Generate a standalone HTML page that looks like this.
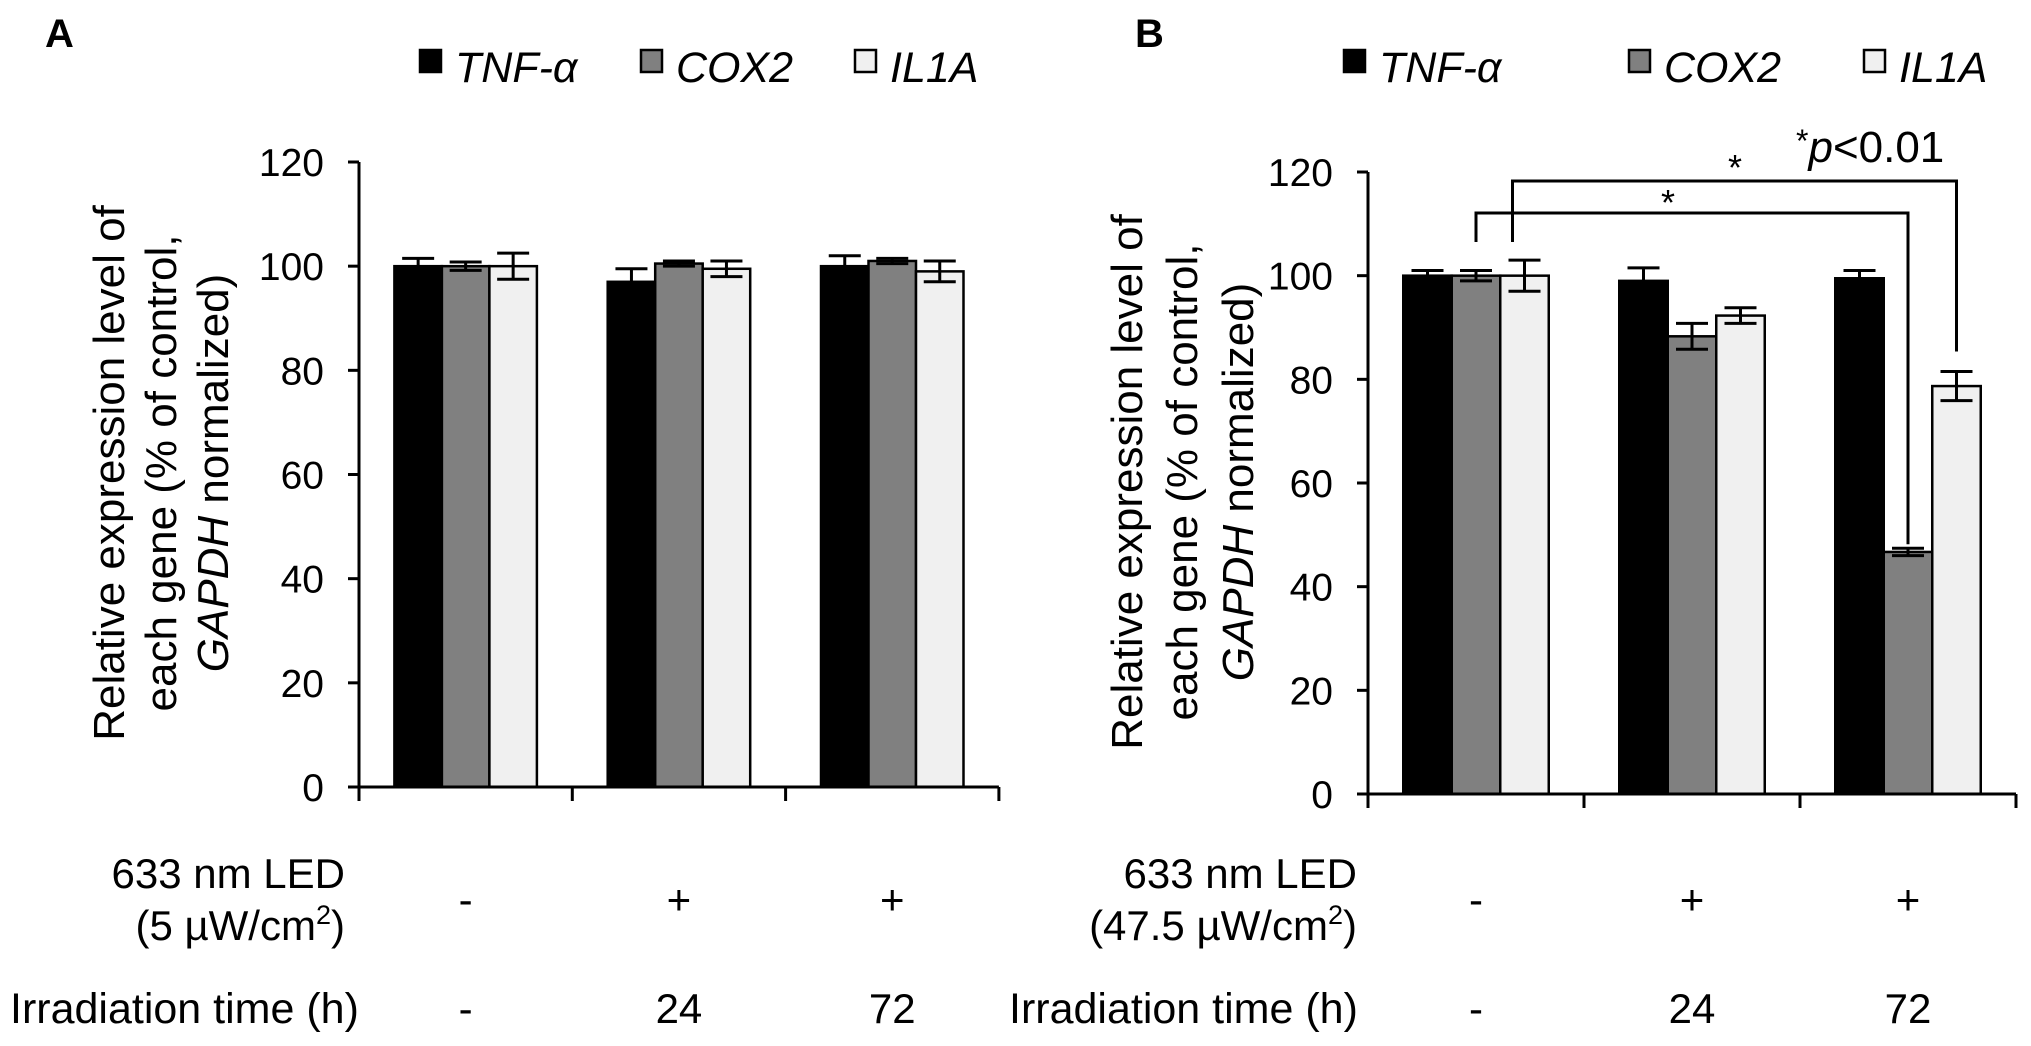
<!DOCTYPE html>
<html><head><meta charset="utf-8"><style>
html,body{margin:0;padding:0;background:#fff;}
svg{display:block;font-family:"Liberation Sans",Arial,sans-serif;}
</style></head><body>
<svg id="fig" width="2031" height="1046" viewBox="0 0 2031 1046">
</svg>
<script>
const categories = ["control", "24 h", "72 h"];
const series = ["TNF-α", "COX2", "IL1A"];
const ticks = [0, 20, 40, 60, 80, 100, 120];
const ledLabels = ["-", "+", "+"];
const timeLabels = ["-", "24", "72"];
const aTNF = [100, 97, 100];
const aCOX2 = [100, 100.5, 101];
const aIL1A = [100, 99.5, 99];
const aTNFerr = [1.5, 2.5, 2];
const aCOX2err = [0.8, 0.5, 0.5];
const aIL1Aerr = [2.5, 1.5, 2];
const bTNF = [100, 99, 99.5];
const bCOX2 = [100, 88.3, 46.7];
const bIL1A = [100, 92.3, 78.7];
const bTNFerr = [1, 2.5, 1.5];
const bCOX2err = [1, 2.5, 0.7];
const bIL1Aerr = [3, 1.5, 2.8];

const NS = "http://www.w3.org/2000/svg";
const svg = document.getElementById("fig");
const fills = ["#000", "#808080", "#f0f0f0"];
function el(tag, attrs, parent) {
  const e = document.createElementNS(NS, tag);
  for (const k in attrs) e.setAttribute(k, attrs[k]);
  (parent || svg).appendChild(e);
  return e;
}
function txt(x, y, s, size, anchor, parent, style) {
  const t = el("text", {x: x, y: y, "font-size": size, "text-anchor": anchor || "start", fill: "#000"}, parent);
  if (style) t.setAttribute("font-style", style);
  t.textContent = s;
  return t;
}

function panel(cfg) {
  const g = el("g", {});
  
  
  const x0 = cfg.axisX, y0 = cfg.base, yTop = cfg.top, gw = cfg.groupW;
  const yScale = v => y0 - (v / 120) * (y0 - yTop);
  const xGroup = i => x0 + gw * i + gw / 2;
  const bw = cfg.barW;
  const data = [cfg.vals[0], cfg.vals[1], cfg.vals[2]];
  const errs = [cfg.errs[0], cfg.errs[1], cfg.errs[2]];
  for (let i = 0; i < categories.length; i++) {
    for (let s = 0; s < series.length; s++) {
      const v = data[s][i];
      const bx = xGroup(i) - 1.5 * bw + s * bw;
      const r = el("rect", {x: bx, y: yScale(v), width: bw, height: y0 - yScale(v), fill: fills[s], stroke: "#000", "stroke-width": 2.5}, g);
      
      
      const e = errs[s][i], cx = bx + bw / 2, cw = 16;
      const eg = el("g", {stroke: "#000", "stroke-width": 3}, g);
      
      
      el("line", {x1: cx, x2: cx, y1: yScale(v + e), y2: yScale(v - e)}, eg);
      el("line", {x1: cx - cw, x2: cx + cw, y1: yScale(v + e), y2: yScale(v + e)}, eg);
      el("line", {x1: cx - cw, x2: cx + cw, y1: yScale(v - e), y2: yScale(v - e)}, eg);
    }
  }
  const ax = el("g", {stroke: "#000", "stroke-width": 3}, g);
  
  
  el("line", {x1: x0, x2: x0, y1: yTop, y2: y0 + 14}, ax);
  el("line", {x1: x0 - 11, x2: x0 + gw * 3, y1: y0, y2: y0}, ax);
  for (let i = 1; i <= 3; i++) el("line", {x1: x0 + gw * i, x2: x0 + gw * i, y1: y0, y2: y0 + 14}, ax);
  ticks.forEach(t => {
    el("line", {x1: x0 - 11, x2: x0, y1: yScale(t), y2: yScale(t)}, ax);
    const lb = txt(x0 - 35, yScale(t) + 14, String(t), 39, "end", g);
    
    
  });
  const tl = el("g", {transform: "translate(0," + cfg.titleY + ")"}, g);
  
  
  const lines = ["Relative expression level of", "each gene (% of control,"];
  lines.forEach((s, k) => {
    const t = txt(0, 0, s, 44, "middle", tl);
    t.setAttribute("transform", "translate(" + (cfg.titleX[k] + 16) + ",0) rotate(-90)");
  });
  const t3 = el("text", {"font-size": 44, "text-anchor": "middle", transform: "translate(" + (cfg.titleX[2] + 16) + ",0) rotate(-90)"}, tl);
  const ts1 = el("tspan", {"font-style": "italic"}, t3); ts1.textContent = "GAPDH";
  const ts2 = el("tspan", {}, t3); ts2.textContent = " normalized)";
  const lg = el("g", {}, g);
  
  
  series.forEach((s, k) => {
    el("rect", {x: cfg.legX[k], y: 50, width: 21, height: 22, fill: fills[k], stroke: "#000", "stroke-width": 2.5}, lg);
    const t = txt(cfg.legX[k] + 35, 82, s, 43, "start", lg, "italic");
    
    
  });
  const pl = txt(cfg.letterX, 47, cfg.letter, 40, "start", g);
  pl.setAttribute("font-weight", "bold");
  
  
  const r1 = txt(cfg.labelRight, 888, "633 nm LED", 42, "end", g);
  
  
  const r2 = el("text", {x: cfg.labelRight, y: 940, "font-size": 42, "text-anchor": "end"}, g);
  
  
  const p1 = el("tspan", {}, r2); p1.textContent = "(" + cfg.power + " µW/cm";
  const p2 = el("tspan", {dy: -16, "font-size": 27}, r2); p2.textContent = "2";
  const p3 = el("tspan", {dy: 16}, r2); p3.textContent = ")";
  const r3 = txt(cfg.irrX, 1023, "Irradiation time (h)", 43, "start", g);
  
  
  for (let i = 0; i < 3; i++) {
    const a = txt(xGroup(i), 914, ledLabels[i], 42, "middle", g);
    
    
    const b = txt(xGroup(i), 1023, timeLabels[i], 42, "middle", g);
    
    
  }
  return {yScale, xGroup, bw};
}

panel({name: "panel-a", axisX: 359, base: 787, top: 162, groupW: 213.3, barW: 47.5,
  vals: [aTNF, aCOX2, aIL1A], errs: [aTNFerr, aCOX2err, aIL1Aerr],
  titleX: [108, 160, 212], titleY: 473, legX: [420, 641, 855], letter: "A", letterX: 45,
  labelRight: 345, power: "5", irrX: 10});

const pb = panel({name: "panel-b", axisX: 1368, base: 794, top: 172, groupW: 216, barW: 48.5,
  vals: [bTNF, bCOX2, bIL1A], errs: [bTNFerr, bCOX2err, bIL1Aerr],
  titleX: [1126, 1181, 1237], titleY: 482, legX: [1344, 1629, 1864], letter: "B", letterX: 1135,
  labelRight: 1357, power: "47.5", irrX: 1009});

const sig = el("g", {stroke: "#000", "stroke-width": 3, fill: "none"});


const gx = i => pb.xGroup(i);
const c1 = gx(0), c3 = gx(2), bw = pb.bw;
el("polyline", {points: [c1, 242, c1, 213, c3, 213, c3, pb.yScale(bCOX2[2] + bCOX2err[2]) - 4].join(" ")}, sig);
el("polyline", {points: [c1 + bw - 12, 242, c1 + bw - 12, 181, c3 + bw, 181, c3 + bw, pb.yScale(bIL1A[2] + bIL1Aerr[2]) - 20].join(" ")}, sig);
const s1 = txt(1668, 215, "*", 36, "middle");


const s2 = txt(1735, 180, "*", 36, "middle");


const pv = el("text", {x: 1796, y: 162, "font-size": 44});


const q1 = el("tspan", {"font-size": 32, dy: -10}, pv); q1.textContent = "*";
const q2 = el("tspan", {"font-style": "italic", dy: 10}, pv); q2.textContent = "p";
const q3 = el("tspan", {}, pv); q3.textContent = "<0.01";
</script>
</body></html>
